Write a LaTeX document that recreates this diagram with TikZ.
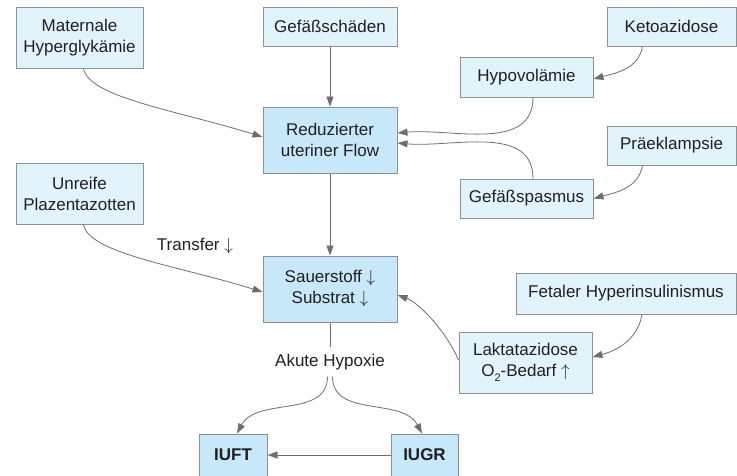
\documentclass[tikz,border=0pt]{standalone}
\usepackage{fontspec}
\setmainfont{Liberation Sans}
\usetikzlibrary{arrows.meta}
\definecolor{boxlight}{HTML}{E1F3FB}
\definecolor{boxdark}{HTML}{C6E8F8}
\definecolor{edgegray}{HTML}{8E9092}
\definecolor{arrowgray}{HTML}{6D6E70}
\definecolor{ink}{HTML}{231F20}
% thin arrows for "decreased" / "increased"
\newcommand{\dn}{~$\downarrow$}
\newcommand{\upa}{~$\uparrow$}
\begin{document}
\begin{tikzpicture}[x=1pt,y=1pt,
  font=\fontsize{17}{21}\selectfont, text=ink,
  box/.style={draw=edgegray, line width=1pt, fill=boxlight, align=center, inner sep=0pt},
  keybox/.style={box, fill=boxdark},
  arr/.style={draw=arrowgray, line width=0.8pt, -{Triangle[length=10pt,width=7pt]}},
  plain/.style={draw=arrowgray, line width=0.8pt},
  lbl/.style={inner sep=6.5pt, align=center}]
\useasboundingbox (0,0) rectangle (737,-475);
\clip (0,0) rectangle (737,-475);

% causes and intermediate states
\node[box, minimum width=127pt, minimum height=61pt] (mat) at (79.5,-37.5) {Maternale\\Hyperglykämie};
\node[box, minimum width=134pt, minimum height=39pt] (gef) at (330,-26.5) {Gefäßschäden};
\node[box, minimum width=129pt, minimum height=39pt] (keto) at (671.5,-26.5) {Ketoazidose};
\node[box, minimum width=133pt, minimum height=40pt] (hyp) at (526.5,-77) {Hypovolämie};
\node[keybox, minimum width=134pt, minimum height=66pt] (red) at (330,-140) {Reduzierter\\uteriner Flow};
\node[box, minimum width=129pt, minimum height=39pt] (prae) at (671.5,-145.5) {Präeklampsie};
\node[box, minimum width=133pt, minimum height=39pt] (spas) at (526.5,-198.5) {Gefäßspasmus};
\node[box, minimum width=127pt, minimum height=61pt] (unr) at (79.5,-193.5) {Unreife\\Plazentazotten};
\node[keybox, minimum width=134pt, minimum height=66pt] (sau) at (330,-289) {Sauerstoff\dn\\Substrat\dn};
\node[box, minimum width=220pt, minimum height=41pt] (fet) at (626,-293.5) {Fetaler Hyperinsulinismus};
\node[box, minimum width=133pt, minimum height=61pt] (lak) at (525.5,-362.5) {Laktatazidose\\O\raisebox{-0.3em}{\fontsize{11}{11}\selectfont 2}-Bedarf\upa};
\node[keybox, minimum width=68pt, minimum height=42pt, font=\fontsize{17}{21}\selectfont\bfseries] (iuft) at (233,-455) {IUFT};
\node[keybox, minimum width=67pt, minimum height=42pt, font=\fontsize{17}{21}\selectfont\bfseries] (iugr) at (424.5,-455) {IUGR};

% labels
\node[lbl] (trans) at (195,-246) {Transfer\dn};
\node[lbl] (ah) at (330,-362) {Akute Hypoxie};

% connectors
\draw[arr] ([xshift=4pt]mat.south) .. controls +(5,-29) and +(-83,26) .. ([yshift=3pt]red.west);
\draw[arr] (gef) -- (red);
\draw[arr] ([xshift=-29pt]keto.south) to[out=-100,in=15] ([yshift=-2pt]hyp.east);
\draw[arr] ([xshift=6.5pt]hyp.south) to[out=-90,in=5] ([yshift=7pt]red.east);
\draw[arr] ([xshift=6.5pt]spas.north) to[out=90,in=-5] ([yshift=-3pt]red.east);
\draw[arr] ([xshift=-29pt]prae.south) to[out=-100,in=15] ([yshift=0pt]spas.east);
\draw[arr] (red) -- (sau);
\draw[arr] ([xshift=4pt]unr.south) .. controls +(5,-29) and +(-83,26) .. ([yshift=-3pt]sau.west);
\draw[arr] ([xshift=16pt]fet.south) to[out=-100,in=15] ([yshift=5.5pt]lak.east);
\draw[arr] ([yshift=2.5pt]lak.west) .. controls +(-12,28) and +(22,-8) .. ([yshift=-6pt]sau.east);
\draw[plain] (sau) -- (ah);
\draw[arr] ([xshift=-2.5pt]ah.south) to[out=-90,in=62] ([xshift=4pt]iuft.north);
\draw[arr] ([xshift=2.5pt]ah.south) to[out=-90,in=118] ([xshift=-2.5pt]iugr.north);
\draw[arr] (iugr) -- (iuft);
\end{tikzpicture}
\end{document}
